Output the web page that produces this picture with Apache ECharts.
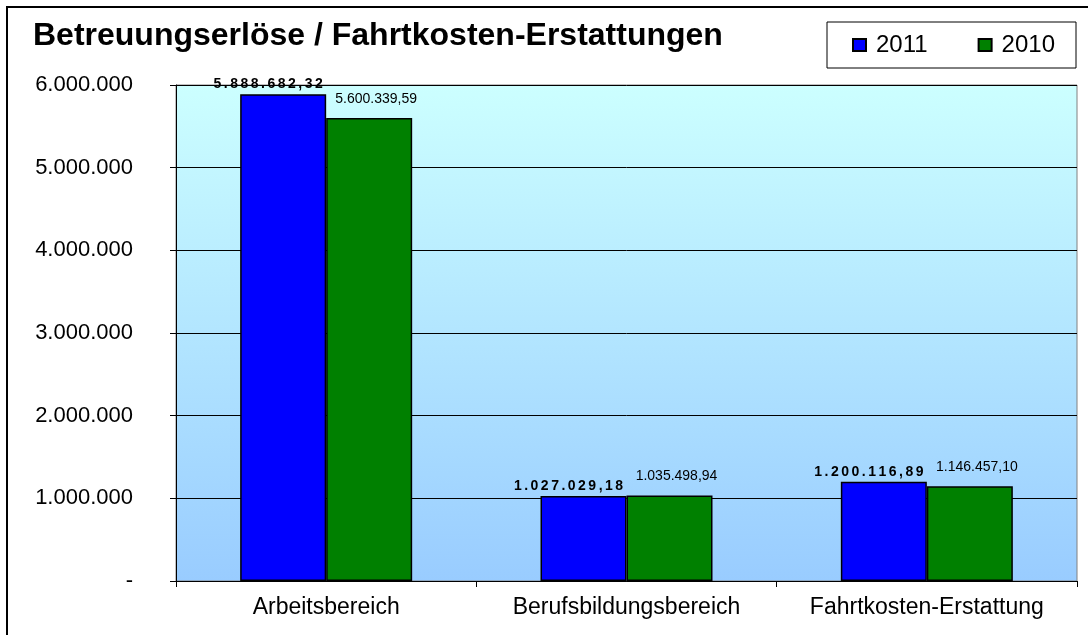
<!DOCTYPE html>
<head>
    <meta charset="utf-8"/>
    <style>
        html,body { height:100%; width:100%; margin:0; padding:0; background:#fff; }
    </style>
</head>
<body>
<div id="chart" style="width:1088px;height:635px"></div>

<script src="https://cdn.jsdelivr.net/npm/echarts@6/dist/echarts.min.js"></script>
<script type="text/javascript">

 // Daten
 var categories = ['Arbeitsbereich', 'Berufsbildungsbereich', 'Fahrtkosten-Erstattung'];
 var seriesNames = ['2011', '2010'];
 var values2011 = [5888682.32, 1027029.18, 1200116.89];
 var values2010 = [5600339.59, 1035498.94, 1146457.10];
 var yTicks = [0, 1000000, 2000000, 3000000, 4000000, 5000000, 6000000];

 var fontFamily = 'Arial, "Liberation Sans", sans-serif';

 // deutsches Zahlenformat: 1.234.567,89
 function formatDE(v, decimals) {
     var parts = Number(v).toFixed(decimals).split('.');
     var intPart = parts[0].replace(/\B(?=(\d{3})+(?!\d))/g, '.');
     return parts.length > 1 ? intPart + ',' + parts[1] : intPart;
 }

 // gesperrte Schrift (Excel-Look): jedes Zeichen als eigenes rich-Token mit Abstand
 function spaced(s) {
     return s.split('').map(function (c) { return '{s|' + c + '}'; }).join('');
 }

 var myChart = echarts.init(document.getElementById('chart'));

 var option = {
     animation: false,
     backgroundColor: '#ffffff',
     textStyle: { fontFamily: fontFamily },
     title: {
         text: 'Betreuungserlöse / Fahrtkosten-Erstattungen',
         left: 33,
         top: 20,
         padding: 0,
         textStyle: {
             fontFamily: fontFamily,
             fontSize: 32,
             fontWeight: 'bold',
             color: '#000'
         }
     },
     legend: {
         data: seriesNames,
         left: 827,
         top: 22,
         padding: [11, 21, 11, 25],
         borderColor: '#000',
         borderWidth: 1,
         itemGap: 50,
         itemWidth: 13,
         itemHeight: 12,
         icon: 'rect',
         textStyle: {
             fontFamily: fontFamily,
             fontSize: 24,
             color: '#000',
             padding: [0, 0, 0, 5]
         }
     },
     graphic: [
         {
             type: 'rect',
             silent: true,
             shape: { x: 7, y: 7, width: 1200, height: 800 },
             style: { fill: 'none', stroke: '#000', lineWidth: 2 }
         }
     ],
     grid: {
         left: 176,
         top: 85,
         width: 901,
         height: 496,
         show: true,
         borderColor: '#808080',
         borderWidth: 1,
         backgroundColor: {
             type: 'linear', x: 0, y: 0, x2: 0, y2: 1,
             colorStops: [
                 { offset: 0, color: '#CCFFFF' },
                 { offset: 1, color: '#99CCFF' }
             ]
         }
     },
     xAxis: {
         type: 'category',
         data: categories,
         axisLine: { lineStyle: { color: '#000', width: 1 } },
         axisTick: { show: true, length: 6, lineStyle: { color: '#000' } },
         axisLabel: {
             interval: 0,
             fontFamily: fontFamily,
             fontSize: 23,
             color: '#000',
             margin: 15
         }
     },
     yAxis: {
         type: 'value',
         min: yTicks[0],
         max: yTicks[yTicks.length - 1],
         interval: yTicks[1] - yTicks[0],
         axisLine: { show: true, lineStyle: { color: '#000', width: 1 } },
         axisTick: { show: true, length: 6, lineStyle: { color: '#000' } },
         splitLine: { show: true, lineStyle: { color: '#000', width: 1 } },
         axisLabel: {
             fontFamily: fontFamily,
             fontSize: 22,
             color: '#000',
             margin: 43,
             formatter: function (v) {
                 return v === 0 ? '-' : formatDE(v, 0);
             }
         }
     },
     series: [
         {
             name: seriesNames[0],
             type: 'bar',
             data: values2011,
             barWidth: 86,
             barGap: '0%',
             itemStyle: { color: '#0000FF', borderColor: '#000', borderWidth: 1.5 },
             label: {
                 show: true,
                 position: 'top',
                 distance: 3,
                 offset: [-15, 0],
                 color: '#000',
                 formatter: function (p) { return spaced(formatDE(p.value, 2)); },
                 rich: {
                     s: {
                         fontFamily: fontFamily,
                         fontSize: 14,
                         fontWeight: 'bold',
                         color: '#000',
                         padding: [0, 1.25, 0, 1.25]
                     }
                 }
             }
         },
         {
             name: seriesNames[1],
             type: 'bar',
             data: values2010,
             barWidth: 86,
             barGap: '0%',
             itemStyle: { color: '#008000', borderColor: '#000', borderWidth: 1.5 },
             label: {
                 show: true,
                 position: 'top',
                 distance: 12,
                 offset: [7, 0],
                 fontFamily: fontFamily,
                 fontSize: 14,
                 color: '#000',
                 formatter: function (p) { return formatDE(p.value, 2); }
             }
         }
     ]
 };

 myChart.setOption(option);

</script>
</body>
